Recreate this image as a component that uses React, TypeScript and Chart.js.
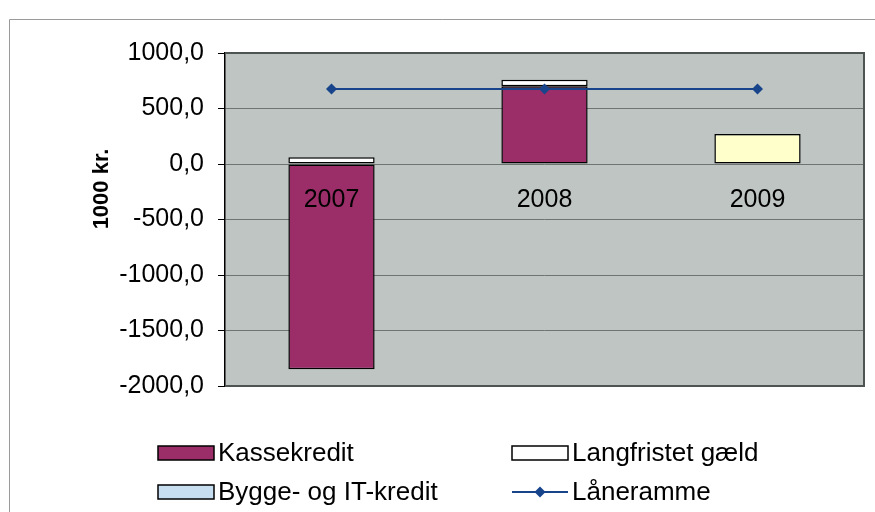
import React, { useEffect, useRef } from 'react';
import { Chart, registerables } from 'chart.js';

Chart.register(...registerables);

// ---- data ----
const categories = ['2007', '2008', '2009'];
const kassekredit = [-1850, 700, 0];
const langfristetGaeld = [60, 60, 270];
const byggeOgIT = [0, 0, 0];
const laaneramme = [675, 675, 675];

const seriesNames = ['Kassekredit', 'Langfristet gæld', 'Bygge- og IT-kredit', 'Låneramme'];
const yMin = -2000;
const yMax = 1000;
const yStep = 500;
const yTitle = '1000 kr.';

const FONT = '"Liberation Sans", Arial, sans-serif';

const framePlugin = {
  id: 'frame',
  beforeDraw(chart: any) {
    const { ctx, chartArea } = chart;
    ctx.save();
    // outer frame
    ctx.strokeStyle = '#9a9a9a';
    ctx.lineWidth = 1;
    ctx.beginPath();
    ctx.moveTo(9.5, 512);
    ctx.lineTo(9.5, 19.5);
    ctx.lineTo(875, 19.5);
    ctx.stroke();
    // plot background
    ctx.fillStyle = '#bec5c3';
    ctx.fillRect(chartArea.left, chartArea.top, chartArea.right - chartArea.left, chartArea.bottom - chartArea.top);
    ctx.restore();
  },
  beforeDatasetsDraw(chart: any) {
    const { ctx, chartArea } = chart;
    ctx.save();
    ctx.strokeStyle = '#4e5452';
    ctx.lineWidth = 2;
    ctx.beginPath();
    ctx.moveTo(chartArea.left, chartArea.top);
    ctx.lineTo(chartArea.right, chartArea.top);
    ctx.lineTo(chartArea.right, chartArea.bottom);
    ctx.lineTo(chartArea.left, chartArea.bottom);
    ctx.stroke();
    ctx.restore();
  },
  afterDraw(chart: any) {
    const { ctx } = chart;
    ctx.save();
    // y axis title
    ctx.translate(102, 189);
    ctx.rotate(-Math.PI / 2);
    ctx.font = `bold 22px ${FONT}`;
    ctx.fillStyle = '#000';
    ctx.textAlign = 'center';
    ctx.textBaseline = 'middle';
    ctx.fillText(yTitle, 0, 0);
    ctx.restore();

    // legend
    const colX = [158, 512];
    const rowY = [453, 492];
    ctx.save();
    ctx.font = `26px ${FONT}`;
    ctx.textBaseline = 'middle';
    ctx.textAlign = 'left';
    chart.data.datasets.forEach((ds: any, i: number) => {
      const x = colX[i % 2];
      const y = rowY[Math.floor(i / 2)];
      if (ds.type === 'line') {
        ctx.strokeStyle = ds.borderColor;
        ctx.lineWidth = 2;
        ctx.beginPath();
        ctx.moveTo(x, y);
        ctx.lineTo(x + 56, y);
        ctx.stroke();
        ctx.fillStyle = ds.borderColor;
        ctx.beginPath();
        ctx.moveTo(x + 28, y - 5.5);
        ctx.lineTo(x + 33.5, y);
        ctx.lineTo(x + 28, y + 5.5);
        ctx.lineTo(x + 22.5, y);
        ctx.closePath();
        ctx.fill();
      } else {
        const bg = Array.isArray(ds.backgroundColor) ? ds.backgroundColor[0] : ds.backgroundColor;
        ctx.fillStyle = bg;
        ctx.fillRect(x, y - 7, 56, 14);
        ctx.strokeStyle = '#000';
        ctx.lineWidth = 1.5;
        ctx.strokeRect(x, y - 7, 56, 14);
      }
      ctx.fillStyle = '#000';
      ctx.fillText(ds.label, x + 60, y + 1);
    });
    ctx.restore();
  },
};

export default function App() {
  const ref = useRef<HTMLCanvasElement | null>(null);

  useEffect(() => {
    if (!ref.current) return;
    const chart = new Chart(ref.current, {
      type: 'bar',
      data: {
        labels: categories,
        datasets: [
          {
            type: 'bar',
            label: seriesNames[0],
            data: kassekredit,
            backgroundColor: '#9b2d69',
            borderColor: '#000',
            borderWidth: 1.5,
            borderSkipped: false,
            order: 1,
          },
          {
            type: 'bar',
            label: seriesNames[1],
            data: langfristetGaeld,
            backgroundColor: ['#ffffff', '#ffffff', '#ffffcc'],
            borderColor: '#000',
            borderWidth: 1.5,
            borderSkipped: false,
            order: 1,
          },
          {
            type: 'bar',
            label: seriesNames[2],
            data: byggeOgIT,
            backgroundColor: '#c6def0',
            borderColor: '#000',
            borderWidth: 1.5,
            borderSkipped: false,
            order: 1,
          },
          {
            type: 'line',
            label: seriesNames[3],
            data: laaneramme,
            borderColor: '#17448a',
            backgroundColor: '#17448a',
            borderWidth: 2,
            pointStyle: 'rectRot',
            pointRadius: 5.5,
            pointBorderWidth: 0,
            pointBackgroundColor: '#17448a',
            order: 0,
          } as any,
        ],
      },
      options: {
        animation: false,
        responsive: true,
        maintainAspectRatio: false,
        categoryPercentage: 1,
        barPercentage: 0.405,
        layout: { padding: { left: 0, top: 53, right: 11, bottom: 126 } },
        plugins: {
          legend: { display: false },
          tooltip: { enabled: false },
        },
        scales: {
          x: {
            type: 'category',
            stacked: true,
            offset: true,
            position: { y: 0 } as any,
            grid: { display: false, drawTicks: false },
            border: { display: false },
            ticks: {
              z: 2,
              color: '#000',
              font: { family: FONT, size: 25 },
              padding: 21,
              maxRotation: 0,
            },
          } as any,
          y: {
            stacked: true,
            min: yMin,
            max: yMax,
            position: 'left',
            afterFit: (s: any) => {
              s.width = 225;
            },
            grid: {
              color: '#6e7472',
              lineWidth: 1,
              tickColor: '#000',
              tickLength: 7,
            },
            border: { display: true, color: '#000', width: 1.5 },
            ticks: {
              stepSize: yStep,
              color: '#000',
              padding: 14,
              font: { family: FONT, size: 25 },
              callback: (v: any) => Number(v).toFixed(1).replace('.', ','),
            },
          },
        },
      },
      plugins: [framePlugin],
    });
    return () => chart.destroy();
  }, []);

  return (
    <div style={{ position: 'absolute', left: 0, top: 0, width: 875, height: 512, background: '#fff' }}>
      <canvas ref={ref} style={{ width: '100%', height: '100%' }} />
    </div>
  );
}
